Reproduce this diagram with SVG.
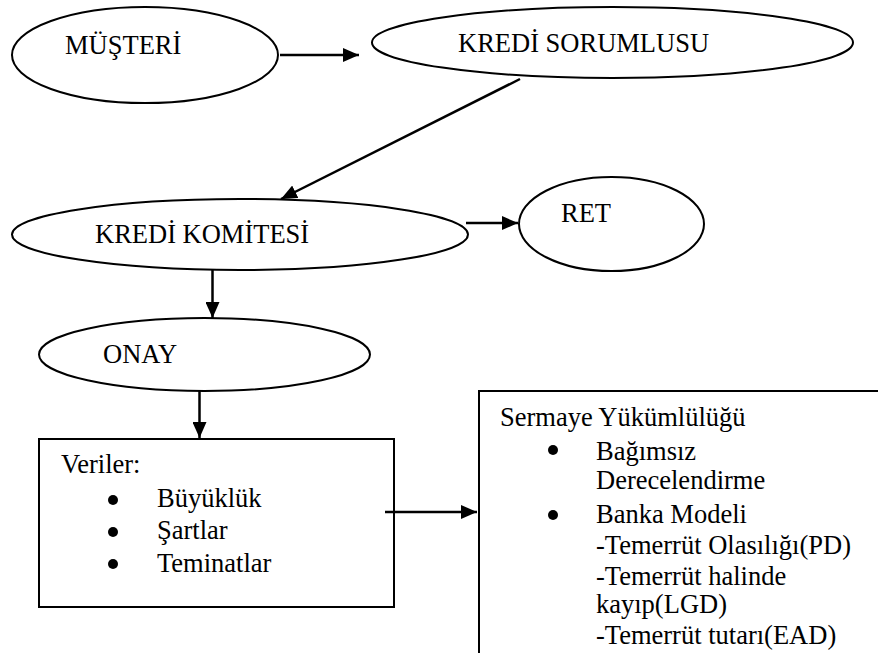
<svg xmlns="http://www.w3.org/2000/svg" width="878" height="653" viewBox="0 0 878 653">
<style>
.n{fill:#fff;stroke:#000;stroke-width:2}
.c{stroke:#000;stroke-width:2.5;fill:none}
</style>
<defs>
<marker id="ah" viewBox="0 0 16 14" refX="16" refY="7" markerWidth="16" markerHeight="14" markerUnits="userSpaceOnUse" orient="auto">
<path d="M0,0 L16,7 L0,14 Z" fill="#000"/>
</marker>
</defs>
<rect width="878" height="653" fill="#fff"/>
<g font-family="Liberation Serif, Times New Roman, serif" font-size="26.5" fill="#000">
<g id="musteri">
<ellipse class="n" cx="145" cy="55" rx="133" ry="48"/>
<text x="65" y="54">MÜŞTERİ</text>
</g>
<g id="kredi-sorumlusu">
<ellipse class="n" cx="612.5" cy="42.5" rx="240.5" ry="35.5"/>
<text x="458" y="52">KREDİ SORUMLUSU</text>
</g>
<g id="kredi-komitesi">
<ellipse class="n" cx="240" cy="234.5" rx="228" ry="35.5"/>
<text x="95" y="243">KREDİ KOMİTESİ</text>
</g>
<g id="ret">
<ellipse class="n" cx="611.5" cy="224" rx="92.5" ry="47"/>
<text x="561" y="222">RET</text>
</g>
<g id="onay">
<ellipse class="n" cx="204.5" cy="354.5" rx="165.5" ry="36.5"/>
<text x="103" y="363">ONAY</text>
</g>
<g id="veriler">
<rect class="n" x="39" y="439" width="355" height="168"/>
<text x="61" y="473">Veriler:</text>
<circle cx="113" cy="500" r="5"/>
<circle cx="113" cy="532" r="5"/>
<circle cx="113" cy="564" r="5"/>
<text x="157" y="507">Büyüklük</text>
<text x="157" y="539">Şartlar</text>
<text x="157" y="572">Teminatlar</text>
</g>
<g id="sermaye">
<rect class="n" x="479" y="391" width="420" height="300"/>
<text x="500" y="426">Sermaye Yükümlülüğü</text>
<circle cx="553" cy="450" r="5"/>
<circle cx="553" cy="515" r="5"/>
<text x="596" y="460">Bağımsız</text>
<text x="596" y="489">Derecelendirme</text>
<text x="596" y="523">Banka Modeli</text>
<text x="596" y="554">-Temerrüt Olasılığı(PD)</text>
<text x="596" y="585">-Temerrüt halinde</text>
<text x="596" y="613">kayıp(LGD)</text>
<text x="596" y="644">-Temerrüt tutarı(EAD)</text>
</g>
</g>
<g id="connectors">
<line class="c" x1="280" y1="55" x2="359" y2="55" marker-end="url(#ah)"/>
<line class="c" x1="520" y1="79" x2="281" y2="199" marker-end="url(#ah)"/>
<line class="c" x1="466" y1="223" x2="518" y2="223" marker-end="url(#ah)"/>
<line class="c" x1="212.5" y1="270" x2="212.5" y2="318" marker-end="url(#ah)"/>
<line class="c" x1="199.5" y1="391" x2="199.5" y2="438" marker-end="url(#ah)"/>
<line class="c" x1="385" y1="512" x2="477" y2="512" marker-end="url(#ah)"/>
</g>
</svg>
